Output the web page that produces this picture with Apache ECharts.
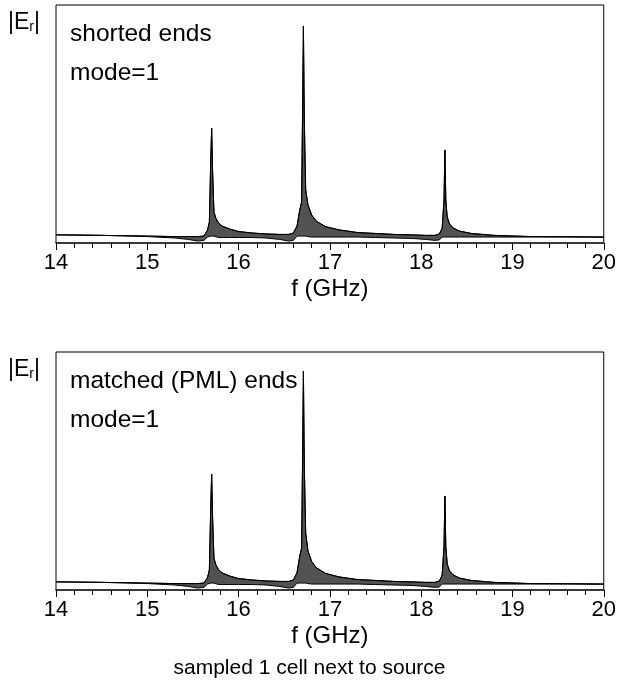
<!DOCTYPE html>
<html>
<head>
<meta charset="utf-8">
<script src="https://cdn.jsdelivr.net/npm/echarts@6/dist/echarts.min.js"></script>
<style>
  html, body { margin: 0; padding: 0; background: #fff; }
  #chart { width: 619px; height: 695px; }
</style>
</head>
<body>
<div id="chart"></div>
<script>
// frequency samples (GHz), shared by both panels
const freqGHz = [
  14.0, 14.5, 15.0, 15.3, 15.45, 15.55, 15.62, 15.66, 15.68, 15.695,
  15.705, 15.715, 15.73, 15.75, 15.78, 15.82, 15.9, 16.0, 16.15, 16.3,
  16.45, 16.55, 16.6, 16.64, 16.67, 16.69, 16.7, 16.71, 16.72, 16.735,
  16.76, 16.8, 16.85, 16.95, 17.1, 17.3, 17.5, 17.7, 17.9, 18.05,
  18.15, 18.2, 18.23, 18.25, 18.26, 18.27, 18.285, 18.31, 18.35, 18.42,
  18.55, 18.8, 19.2, 19.6, 20.0
]

// |Er| (arb. units) - upper / lower envelope of the ringing trace
const shortedUpper = [
  3.4, 3.2, 2.9, 2.7, 2.7, 2.7, 2.9, 5.5, 8.8, 34.9,
  48.3, 30.7, 13.0, 10.5, 8.4, 7.1, 5.9, 4.8, 4.2, 3.8,
  3.6, 3.6, 4.2, 7.1, 13.9, 17.2, 51.7, 91.2, 51.7, 22.3,
  16.0, 11.8, 9.2, 6.9, 5.5, 4.4, 4.0, 3.6, 3.4, 3.2,
  3.2, 3.8, 6.3, 18.1, 39.1, 18.1, 10.9, 8.0, 6.3, 5.0,
  4.0, 3.2, 2.7, 2.6, 2.5
]
const shortedLower = [
  3.4, 3.2, 2.7, 2.1, 1.5, 0.8, 1.1, 2.5, 2.9, 2.9,
  2.9, 2.9, 2.9, 2.5, 2.3, 2.3, 2.3, 2.3, 2.3, 2.1,
  1.5, 0.8, 1.1, 2.9, 2.9, 2.9, 2.9, 2.9, 2.9, 2.9,
  2.7, 2.5, 2.5, 2.5, 2.5, 2.5, 2.3, 2.1, 1.9, 1.5,
  1.1, 1.3, 2.5, 2.5, 2.5, 2.5, 2.5, 2.5, 2.5, 2.5,
  2.5, 2.5, 2.5, 2.5, 2.4
]
const matchedUpper = [
  3.4, 3.2, 2.9, 2.7, 2.7, 2.7, 2.9, 5.3, 8.4, 35.2,
  48.7, 31.0, 13.4, 10.7, 8.5, 7.2, 5.9, 4.8, 4.2, 3.8,
  3.6, 3.6, 4.2, 7.3, 14.2, 17.6, 52.0, 92.0, 52.0, 23.9,
  16.4, 12.0, 9.4, 7.0, 5.5, 4.4, 4.0, 3.6, 3.4, 3.2,
  3.2, 3.8, 6.3, 18.3, 39.5, 18.3, 11.0, 8.0, 6.3, 5.0,
  4.0, 3.2, 2.7, 2.6, 2.5
]
const matchedLower = [
  3.4, 3.2, 2.7, 2.1, 1.5, 0.8, 1.1, 2.5, 2.9, 2.9,
  2.9, 2.9, 2.9, 2.5, 2.3, 2.3, 2.3, 2.3, 2.3, 2.1,
  1.5, 0.8, 1.1, 2.9, 2.9, 2.9, 2.9, 2.9, 2.9, 2.9,
  2.7, 2.5, 2.5, 2.5, 2.5, 2.5, 2.3, 2.1, 1.9, 1.5,
  1.1, 1.3, 2.5, 2.5, 2.5, 2.5, 2.5, 2.5, 2.5, 2.5,
  2.5, 2.5, 2.5, 2.5, 2.4
]

const panelNotes = ['shorted ends', 'matched (PML) ends']
const modeNote = 'mode=1'
const xName = 'f (GHz)'
const caption = 'sampled 1 cell next to source'

const FONT = '"Liberation Sans", Arial, sans-serif'
const PANEL_SHIFT = 347

function xAxisFor(gridIndex) {
  return {
    type: 'value',
    gridIndex,
    min: 14,
    max: 20,
    interval: 1,
    z: 10,
    name: xName,
    nameLocation: 'middle',
    nameGap: 34,
    nameTextStyle: { color: '#000', fontSize: 24, fontFamily: FONT },
    axisLine: { show: true, lineStyle: { color: '#222', width: 1.5 } },
    axisTick: { show: true, length: 7, lineStyle: { color: '#000', width: 1 } },
    minorTick: { show: true, splitNumber: 5, length: 5, lineStyle: { color: '#000', width: 1 } },
    splitLine: { show: false },
    axisLabel: { color: '#000', fontSize: 22, fontFamily: FONT, margin: 9 }
  }
}

function yAxisFor(gridIndex) {
  return {
    type: 'value',
    gridIndex,
    min: 0,
    max: 100,
    axisLine: { show: false },
    axisTick: { show: false },
    axisLabel: { show: false },
    splitLine: { show: false }
  }
}

// ringing band: dark fill under the upper envelope, white fill under the lower one
function traceSeries(idx, upper, lower) {
  const top = upper.map((v, i) => [freqGHz[i], v])
  const bottom = lower.map((v, i) => [freqGHz[i], v])
  const common = { type: 'line', xAxisIndex: idx, yAxisIndex: idx, showSymbol: false, silent: true }
  return [
    {
      ...common,
      z: 2,
      data: top,
      lineStyle: { color: '#000', width: 1 },
      areaStyle: { color: 'rgba(0,0,0,0.68)', opacity: 1 }
    },
    {
      ...common,
      z: 3,
      data: bottom,
      lineStyle: { color: '#000', width: 1 },
      areaStyle: { color: '#fff', opacity: 1 }
    },
    {
      ...common,
      z: 4,
      data: top,
      lineStyle: { color: '#000', width: 1 }
    }
  ]
}

function labelGraphics(i) {
  const dy = i * PANEL_SHIFT
  return [
    {
      type: 'text',
      left: 8,
      top: 11 + dy,
      style: {
        text: '{a||E}{s|r}{a||}',
        rich: {
          a: { fontSize: 23, fontFamily: FONT, fill: '#000' },
          s: { fontSize: 14, fontFamily: FONT, fill: '#000', padding: [10, 0, 0, 0] }
        }
      }
    },
    {
      type: 'text',
      left: 70,
      top: 22 + dy,
      style: { text: panelNotes[i], fontSize: 24.5, fontFamily: FONT, fill: '#000' }
    },
    {
      type: 'text',
      left: 70,
      top: 61 + dy,
      style: { text: modeNote, fontSize: 24.5, fontFamily: FONT, fill: '#000' }
    }
  ]
}

const chart = echarts.init(document.getElementById('chart'), null, { renderer: 'canvas' })

const gridBox = { left: 56, width: 552, height: 238, show: true, z: 10, borderColor: '#000', borderWidth: 1, backgroundColor: 'transparent' }

const option = {
  animation: false,
  backgroundColor: '#fff',
  grid: [
    { ...gridBox, top: 5 },
    { ...gridBox, top: 5 + PANEL_SHIFT }
  ],
  xAxis: [xAxisFor(0), xAxisFor(1)],
  yAxis: [yAxisFor(0), yAxisFor(1)],
  series: [
    ...traceSeries(0, shortedUpper, shortedLower),
    ...traceSeries(1, matchedUpper, matchedLower)
  ],
  graphic: [
    ...labelGraphics(0),
    ...labelGraphics(1),
    {
      type: 'text',
      left: 'center',
      top: 658,
      style: { text: caption, fontSize: 21, fontFamily: FONT, fill: '#000' }
    }
  ]
}

chart.setOption(option)
</script>
</body>
</html>
